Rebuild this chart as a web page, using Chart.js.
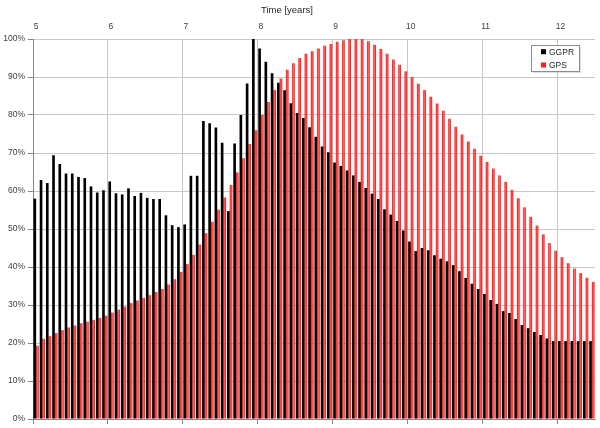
<!DOCTYPE html>
<html><head><meta charset="utf-8">
<script src="https://cdn.jsdelivr.net/npm/chart.js@4/dist/chart.umd.min.js"></script>
<style>html,body{margin:0;padding:0;background:#fff}#wrap{width:600px;height:428px}</style>
</head><body><div id="wrap"><canvas id="c" width="600" height="428"></canvas></div>
<script>
// ---- data ----
const seriesNames = ['GGPR', 'GPS'];
const axisTitle = 'Time [years]';
const yearTicks = [5, 6, 7, 8, 9, 10, 11, 12];
const yTicks = [0, 10, 20, 30, 40, 50, 60, 70, 80, 90, 100];
const timeRange = [5, 12.5];
const ggpr = [
  58.0, 62.9, 62.1, 69.4, 67.1, 64.6, 64.6, 63.7, 63.4, 61.2, 59.6, 60.2,
  62.5, 59.4, 59.1, 60.7, 58.7, 59.5, 58.2, 57.9, 57.9, 53.6, 51.0, 50.5,
  51.2, 64.0, 64.0, 78.4, 77.8, 76.7, 72.7, 54.7, 72.5, 80.0, 88.3, 100,
  97.5, 94.0, 91.0, 88.5, 86.5, 83.1, 80.5, 79.2, 76.8, 74.3, 71.7, 70.2,
  67.5, 66.6, 65.4, 64.1, 62.4, 60.8, 59.3, 57.9, 55.2, 53.8, 52.1, 49.6,
  46.7, 44.2, 45.0, 44.4, 43.1, 42.2, 41.5, 40.5, 38.9, 37.1, 35.6, 34.2,
  32.9, 31.3, 30.3, 28.4, 27.9, 26.3, 24.7, 23.9, 22.9, 22.1, 21.2, 20.5,
  20.5, 20.5, 20.5, 20.5, 20.5, 20.5
];
const gps = [
  19.3, 21.1, 21.8, 22.6, 23.4, 24.1, 24.6, 25.2, 25.6, 26.1, 26.6, 27.2,
  28.0, 28.8, 29.6, 30.5, 31.2, 31.9, 32.6, 33.4, 34.2, 35.4, 36.8, 38.7,
  40.8, 43.2, 45.9, 48.9, 51.9, 55.1, 58.3, 61.6, 64.9, 68.6, 72.4, 76.0,
  80.0, 83.4, 86.6, 89.6, 91.9, 93.6, 95.0, 96.1, 96.8, 97.5, 98.2, 98.7,
  99.3, 99.7, 100, 100, 100, 99.4, 98.5, 97.4, 96.1, 94.6, 93.2, 91.5,
  90.0, 88.2, 86.6, 84.8, 83.0, 81.1, 79.0, 76.9, 74.9, 73.0, 71.1, 69.3,
  67.6, 65.9, 64.1, 62.4, 60.3, 58.1, 55.7, 53.2, 50.9, 48.6, 46.3, 44.3,
  42.6, 41.0, 39.6, 38.4, 37.2, 36.1
];
// monthly categories (month number counted from year 0)
const categories = ggpr.map((_, i) => 'month ' + (60 + i));

// ---- styling ----
const FONT = 'Liberation Sans, Arial, sans-serif';
const TXT = '#404040';
const GRID = '#c8c8c8';
const AXIS = '#868686';
const CAT_PCT = 0.85;

function redGradient(ctx) {
  const chart = ctx.chart, s = chart.scales.x;
  if (ctx.type !== 'data' || !s || !chart.chartArea) return '#ff0000';
  const w = (s.width / categories.length) * CAT_PCT / 2;
  const cx = s.getPixelForValue(ctx.dataIndex);
  const g = chart.ctx.createLinearGradient(cx, 0, cx + w, 0);
  g.addColorStop(0, '#ff0000');
  g.addColorStop(0.5, '#ff6464');
  g.addColorStop(1, '#ff0000');
  return g;
}

const titlePlugin = {
  id: 'topTitle',
  afterDraw(chart) {
    const c = chart.ctx;
    c.save();
    c.font = '9.5px ' + FONT;
    c.fillStyle = '#262626';
    c.textAlign = 'center';
    c.textBaseline = 'middle';
    c.fillText(axisTitle, 287, 10);
    c.restore();
  }
};

const boxLegend = {
  id: 'boxLegend',
  afterDraw(chart) {
    const c = chart.ctx, a = chart.chartArea;
    const bx = a.right - 64, by = a.top + 6, bw = 48, bh = 26;
    c.save();
    c.fillStyle = 'rgba(0,0,0,0.12)';
    c.fillRect(bx + 2, by + 2, bw, bh);
    c.fillStyle = '#ffffff';
    c.fillRect(bx, by, bw, bh);
    c.strokeStyle = '#8c8c8c';
    c.lineWidth = 1;
    c.strokeRect(bx + 0.5, by + 0.5, bw, bh);
    c.font = '8.5px ' + FONT;
    c.textBaseline = 'middle';
    c.textAlign = 'left';
    chart.data.datasets.forEach((ds, i) => {
      const cy = by + 6.7 + i * 13.3;
      c.fillStyle = i === 0 ? '#000000' : '#ff2020';
      c.fillRect(bx + 10, cy - 2.5, 5, 5);
      c.fillStyle = '#262626';
      c.fillText(ds.label, bx + 18, cy + 0.5);
    });
    c.restore();
  }
};

new Chart(document.getElementById('c'), {
  type: 'bar',
  data: {
    labels: categories,
    datasets: [
      { label: seriesNames[0], data: ggpr, backgroundColor: '#000000',
        categoryPercentage: CAT_PCT, barPercentage: 1.0 },
      { label: seriesNames[1], data: gps, backgroundColor: redGradient,
        categoryPercentage: CAT_PCT, barPercentage: 1.0 }
    ]
  },
  options: {
    responsive: false,
    animation: false,
    devicePixelRatio: 1,
    layout: { padding: { left: 0, right: 5, top: 0, bottom: 0 } },
    plugins: { legend: { display: false }, tooltip: { enabled: false } },
    scales: {
      x: { type: 'category', display: false, offset: true },
      xTop: {
        type: 'linear', position: 'top', min: timeRange[0], max: timeRange[1],
        offset: false,
        afterBuildTicks: s => { s.ticks = yearTicks.map(v => ({ value: v })); },
        afterFit: s => { s.height = 39; },
        grid: { color: GRID, drawTicks: false, offset: false },
        border: { display: false },
        ticks: { padding: 7, color: TXT, font: { family: FONT, size: 8.5 },
                 labelOffset: 3, maxRotation: 0 }
      },
      xBot: {
        type: 'linear', position: 'bottom', min: timeRange[0], max: timeRange[1],
        offset: false,
        afterBuildTicks: s => { s.ticks = yearTicks.map(v => ({ value: v })); },
        afterFit: s => { s.height = 9; },
        grid: { drawOnChartArea: false, drawTicks: true, tickLength: 5, color: AXIS, offset: false },
        border: { color: AXIS },
        ticks: { display: false }
      },
      y: {
        min: 0, max: 100,
        afterBuildTicks: s => { s.ticks = yTicks.map(v => ({ value: v })); },
        afterFit: s => { s.width = 33; },
        grid: { color: GRID, tickLength: 5, tickColor: AXIS },
        border: { color: AXIS },
        ticks: { padding: 3, color: TXT, font: { family: FONT, size: 8.5 },
                 callback: v => v + '%' }
      }
    }
  },
  plugins: [titlePlugin, boxLegend]
});
</script>
</body></html>
